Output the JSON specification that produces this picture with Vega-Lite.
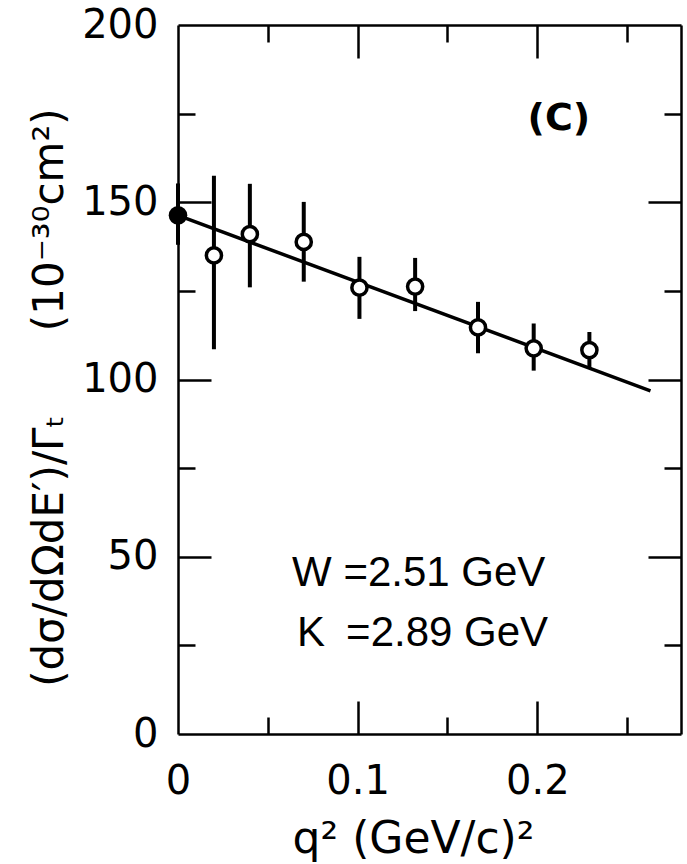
{
  "$schema": "https://vega.github.io/schema/vega-lite/v6.json",
  "width": 503,
  "height": 709,
  "autosize": {"type": "none"},
  "padding": {"left": 178, "top": 25, "right": 6, "bottom": 130},
  "background": "white",
  "config": {
    "view": {"stroke": null},
    "axis": {
      "domainColor": "black", "domainWidth": 2.5, "tickColor": "black", "tickWidth": 2.5,
      "labelColor": "black", "titleColor": "black", "labelFont": "DejaVu Sans", "titleFont": "DejaVu Sans",
      "titleFontWeight": "normal", "grid": false, "labelOverlap": false, "labelFlush": false
    }
  },
  "datasets": {
    "obs": [
      {"q": 0.0, "v": 146.3, "lo": 138.0, "hi": 155.3, "kind": "filled"},
      {"q": 0.02, "v": 135.0, "lo": 108.5, "hi": 157.5, "kind": "open"},
      {"q": 0.04, "v": 141.0, "lo": 126.0, "hi": 155.2, "kind": "open"},
      {"q": 0.07, "v": 138.8, "lo": 127.6, "hi": 150.1, "kind": "open"},
      {"q": 0.101, "v": 125.9, "lo": 117.1, "hi": 134.6, "kind": "open"},
      {"q": 0.132, "v": 126.2, "lo": 119.3, "hi": 134.3, "kind": "open"},
      {"q": 0.167, "v": 114.7, "lo": 107.4, "hi": 121.9, "kind": "open"},
      {"q": 0.198, "v": 108.8, "lo": 102.5, "hi": 115.8, "kind": "open"},
      {"q": 0.229, "v": 108.3, "lo": 103.1, "hi": 113.4, "kind": "open"}
    ],
    "fit": [
      {"q": 0.0, "v": 146.3},
      {"q": 0.263, "v": 96.8}
    ],
    "panel": [
      {"q": 0.212, "v": 173.5, "t": "(C)"}
    ],
    "notes": [
      {"q": 0.0635, "v": 41.8, "t": "W =2.51 GeV"},
      {"q": 0.0663, "v": 24.7, "t": "K\u2002=2.89 GeV"}
    ]
  },
  "resolve": {"axis": {"x": "independent", "y": "independent"}},
  "layer": [
    {
      "data": {"name": "obs"},
      "mark": {"type": "rule", "strokeWidth": 4, "color": "black"},
      "encoding": {
        "x": {
          "field": "q", "type": "quantitative",
          "scale": {"domain": [0, 0.28], "nice": false, "zero": false},
          "axis": {
            "orient": "bottom", "values": [0, 0.1, 0.2], "format": "~g", "ticks": false, "domain": false,
            "labelFontSize": 40, "labelPadding": 27, "labelBaseline": "top",
            "title": "q² (GeV/c)²", "titleFontSize": 44, "titleX": 235, "titleY": 118,
            "titleBaseline": "alphabetic", "titleAlign": "center", "titleAngle": 0
          }
        },
        "y": {
          "field": "lo", "type": "quantitative",
          "scale": {"domain": [0, 200], "nice": false},
          "axis": {
            "orient": "left", "values": [0, 50, 100, 150, 200], "ticks": false, "domain": false,
            "labelFontSize": 40, "labelPadding": 20, "labelBaseline": "middle",
            "title": "(dσ/dΩdE′)/Γₜ\u2003\u2003(10⁻³⁰cm²)", "titleFontSize": 42, "titleX": -116, "titleY": 372,
            "titleAngle": -90, "titleBaseline": "alphabetic", "titleAlign": "center"
          }
        },
        "y2": {"field": "hi"}
      }
    },
    {
      "data": {"name": "fit"},
      "mark": {"type": "line", "strokeWidth": 3.5, "color": "black"},
      "encoding": {
        "x": {
          "field": "q", "type": "quantitative",
          "scale": {"domain": [0, 0.28], "nice": false, "zero": false},
          "axis": {"orient": "bottom", "values": [0.1, 0.2], "tickSize": -33, "labels": false, "domain": true, "title": null}
        },
        "y": {
          "field": "v", "type": "quantitative",
          "scale": {"domain": [0, 200], "nice": false},
          "axis": {"orient": "left", "values": [50, 100, 150], "tickSize": -33, "labels": false, "domain": true, "title": null}
        }
      }
    },
    {
      "data": {"name": "obs"},
      "transform": [{"filter": "datum.kind === 'open'"}],
      "mark": {"type": "point", "shape": "circle", "size": 230, "filled": false, "fill": "white", "fillOpacity": 1, "stroke": "black", "strokeWidth": 3.5, "opacity": 1},
      "encoding": {
        "x": {
          "field": "q", "type": "quantitative",
          "scale": {"domain": [0, 0.28], "nice": false, "zero": false},
          "axis": {"orient": "bottom", "values": [0.05, 0.15, 0.25], "tickSize": -17, "labels": false, "domain": false, "title": null}
        },
        "y": {
          "field": "v", "type": "quantitative",
          "scale": {"domain": [0, 200], "nice": false},
          "axis": {"orient": "left", "values": [25, 75, 125, 175], "tickSize": -17, "labels": false, "domain": false, "title": null}
        }
      }
    },
    {
      "data": {"name": "obs"},
      "transform": [{"filter": "datum.kind === 'filled'"}],
      "mark": {"type": "point", "shape": "circle", "size": 346, "filled": true, "fill": "black", "opacity": 1},
      "encoding": {
        "x": {
          "field": "q", "type": "quantitative",
          "scale": {"domain": [0, 0.28], "nice": false, "zero": false},
          "axis": {"orient": "top", "values": [0.1, 0.2], "tickSize": -33, "labels": false, "domain": true, "title": null}
        },
        "y": {
          "field": "v", "type": "quantitative",
          "scale": {"domain": [0, 200], "nice": false},
          "axis": {"orient": "right", "values": [50, 100, 150], "tickSize": -33, "labels": false, "domain": true, "title": null}
        }
      }
    },
    {
      "data": {"name": "panel"},
      "mark": {"type": "text", "font": "DejaVu Sans", "fontSize": 38, "fontWeight": "bold", "align": "center", "baseline": "middle", "color": "black"},
      "encoding": {
        "x": {
          "field": "q", "type": "quantitative",
          "scale": {"domain": [0, 0.28], "nice": false, "zero": false},
          "axis": {"orient": "top", "values": [0.05, 0.15, 0.25], "tickSize": -17, "labels": false, "domain": false, "title": null}
        },
        "y": {
          "field": "v", "type": "quantitative",
          "scale": {"domain": [0, 200], "nice": false},
          "axis": {"orient": "right", "values": [25, 75, 125, 175], "tickSize": -17, "labels": false, "domain": false, "title": null}
        },
        "text": {"field": "t"}
      }
    },
    {
      "data": {"name": "notes"},
      "mark": {"type": "text", "font": "Liberation Sans", "fontSize": 42, "align": "left", "baseline": "alphabetic", "color": "black"},
      "encoding": {
        "x": {"field": "q", "type": "quantitative", "scale": {"domain": [0, 0.28], "nice": false, "zero": false}, "axis": null},
        "y": {"field": "v", "type": "quantitative", "scale": {"domain": [0, 200], "nice": false}, "axis": null},
        "text": {"field": "t"}
      }
    }
  ]
}
